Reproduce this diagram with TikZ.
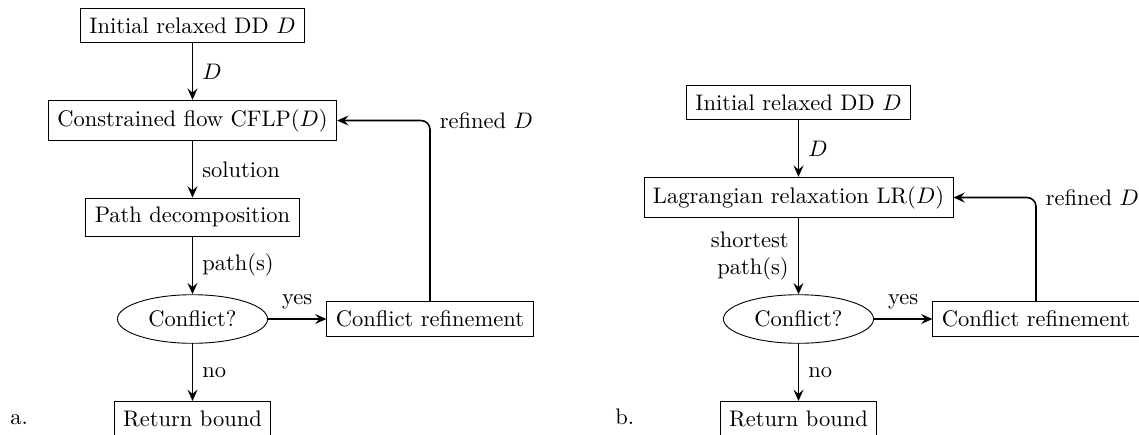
\documentclass[tikz,border=0pt]{standalone}
\usetikzlibrary{arrows.meta,shapes.geometric}
\begin{document}
\begin{tikzpicture}[x=0.4444pt,y=-0.4444pt,
  box/.style={draw,rectangle,line width=0.4pt,inner sep=4pt},
  decision/.style={draw,ellipse,line width=0.4pt,inner sep=4pt},
  flow/.style={line width=0.7pt,-{Stealth[length=5pt,width=4.4pt,inset=1.8pt]}},
  lbl/.style={inner sep=4pt},
  panel/.style={anchor=base west,inner sep=0pt},
]
\useasboundingbox (0,0) rectangle (1139,434);
% ---------------- panel a ----------------
\node[box] (ia) at (192.5,25.5) {Initial relaxed DD $D$};
\node[box] (ca) at (192.5,120.5) {Constrained flow CFLP($D$)};
\node[box] (pa) at (192.5,217) {Path decomposition};
\node[decision] (da) at (192.5,319) {Conflict?};
\node[box] (ra) at (192.5,418.5) {Return bound};
\node[box] (fa) at (430,319) {Conflict refinement};
\node[panel] (la) at (10,424) {a.};
\draw[flow] (ia) -- node[lbl,right] {$D$} (ca);
\draw[flow] (ca) -- node[lbl,right] {solution} (pa);
\draw[flow] (pa) -- node[lbl,right] {path(s)} (da);
\draw[flow] (da) -- node[lbl,right] {no} (ra);
\draw[flow] (da) -- node[lbl,above] {yes} (fa);
\draw[flow,rounded corners=4pt] (fa.north) |- node[lbl,right,pos=0.5] {refined $D$} (ca.east);
% ---------------- panel b ----------------
\node[box] (ib) at (798.5,102.5) {Initial relaxed DD $D$};
\node[box] (cb) at (798.5,197.5) {Lagrangian relaxation LR($D$)};
\node[decision] (db) at (798.5,319) {Conflict?};
\node[box] (rb) at (798.5,418.5) {Return bound};
\node[box] (fb) at (1036,319) {Conflict refinement};
\node[panel] (lb) at (615,424) {b.};
\draw[flow] (ib) -- node[lbl,right] {$D$} (cb);
\draw[flow] (cb) -- node[lbl,left,align=right] {shortest\\path(s)} (db);
\draw[flow] (db) -- node[lbl,right] {no} (rb);
\draw[flow] (db) -- node[lbl,above] {yes} (fb);
\draw[flow,rounded corners=4pt] (fb.north) |- node[lbl,right,pos=0.5] {refined $D$} (cb.east);
\end{tikzpicture}
\end{document}
